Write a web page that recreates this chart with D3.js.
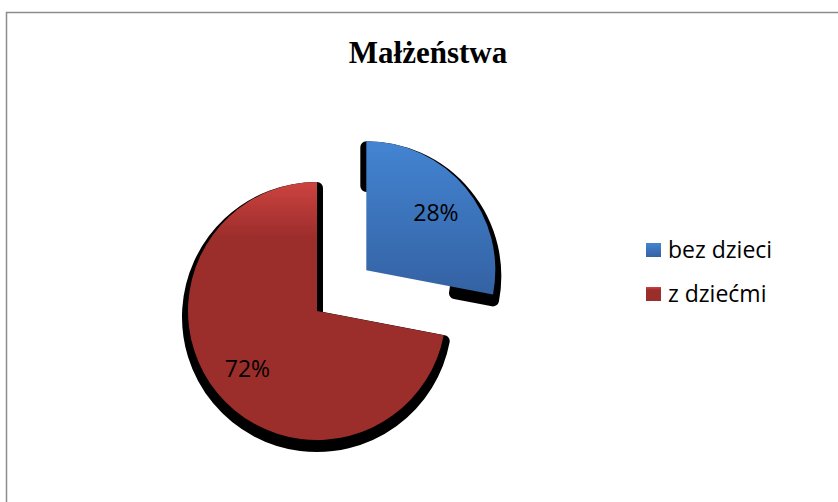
<!DOCTYPE html>
<html>
<head>
<meta charset="utf-8">
<script src="https://cdn.jsdelivr.net/npm/d3@7"></script>
<style>
  body { margin: 0; background: #fff; }
</style>
</head>
<body>
<div id="plot"></div>
<script>
// data
var title = "Małżeństwa";
var categories = ["bez dzieci", "z dziećmi"];
var values = [28, 72];

var svgWidth = 838;
var svgHeight = 502;

var colors = [
  { top: "#4384d2", bottom: "#3462a3" },
  { top: "#cc4340", bottom: "#9b2d2b" }
];

var svg = d3.select("#plot")
  .append("svg")
  .attr("width", svgWidth)
  .attr("height", svgHeight);

var defs = svg.append("defs");

colors.forEach(function (c, i) {
  var g = defs.append("linearGradient")
    .attr("id", "grad" + i)
    .attr("x1", 0).attr("y1", 0)
    .attr("x2", 0).attr("y2", 1);
  g.append("stop").attr("offset", "0%").attr("stop-color", c.top);
  g.append("stop").attr("offset", i === 1 ? "22%" : "100%").attr("stop-color", c.bottom);
});

// chart border
svg.append("rect")
  .attr("x", 6.5)
  .attr("y", 12.5)
  .attr("width", svgWidth)
  .attr("height", svgHeight)
  .attr("fill", "none")
  .attr("stroke", "#8c8c8c")
  .attr("stroke-width", 1.5);

// title
svg.append("text")
  .attr("x", 428)
  .attr("y", 63)
  .attr("text-anchor", "middle")
  .style("font-family", "'Liberation Serif', 'Times New Roman', serif")
  .style("font-weight", "bold")
  .style("font-size", "31px")
  .text(title);

// pie
var radius = 129;
var explode = 64;
var cx = 317, cy = 311;

var pie = d3.pie().sort(null).startAngle(0).endAngle(2 * Math.PI);
var arcs = pie(values);

var arc = d3.arc().innerRadius(0).outerRadius(radius);
// the exploded slice only casts shadow along its outer part
var shadowArc = d3.arc()
  .innerRadius((d, i) => i === 0 ? radius * 0.7 : 0)
  .outerRadius(radius);

var pieGroup = svg.append("g")
  .attr("transform", `translate(${cx}, ${cy})`);

function offset(d, i) {
  if (i !== 0) return [0, 0];
  var mid = (d.startAngle + d.endAngle) / 2;
  return [Math.sin(mid) * explode, -Math.cos(mid) * explode];
}

// shadows
pieGroup.selectAll(".shadow")
  .data(arcs)
  .enter()
  .append("path")
  .attr("class", "shadow")
  .attr("d", (d, i) => shadowArc(d, i))
  .attr("fill", "#000")
  .attr("stroke", "#000")
  .attr("stroke-width", 12)
  .attr("stroke-linejoin", "round")
  .attr("transform", function (d, i) {
    var o = offset(d, i);
    return `translate(${o[0]}, ${o[1] + 6})`;
  });

// slices
pieGroup.selectAll(".slice")
  .data(arcs)
  .enter()
  .append("path")
  .attr("class", "slice")
  .attr("d", arc)
  .attr("fill", (d, i) => `url(#grad${i})`)
  .attr("transform", function (d, i) {
    var o = offset(d, i);
    return `translate(${o[0]}, ${o[1]})`;
  });

// labels
var labelArc = d3.arc().innerRadius(radius * 0.7).outerRadius(radius * 0.7);
pieGroup.selectAll(".label")
  .data(arcs)
  .enter()
  .append("text")
  .attr("class", "label")
  .attr("transform", function (d, i) {
    var o = offset(d, i);
    var c = labelArc.centroid(d);
    return `translate(${c[0] + o[0]}, ${c[1] + o[1]})`;
  })
  .attr("text-anchor", "middle")
  .attr("dy", "0.35em")
  .style("font-family", "'Open Sans', sans-serif")
  .style("font-size", "23px")
  .style("fill", "#000")
  .text(d => d.data + "%");

// legend
var legend = svg.append("g")
  .attr("transform", "translate(646, 243)");

var item = legend.selectAll(".item")
  .data(categories)
  .enter()
  .append("g")
  .attr("class", "item")
  .attr("transform", (d, i) => `translate(0, ${i * 44})`);

item.append("rect")
  .attr("width", 15)
  .attr("height", 14)
  .attr("fill", (d, i) => `url(#grad${i})`);

item.append("text")
  .attr("x", 22)
  .attr("y", 15)
  .style("font-family", "'Open Sans', sans-serif")
  .style("font-size", "23px")
  .text(d => d);
</script>
</body>
</html>
